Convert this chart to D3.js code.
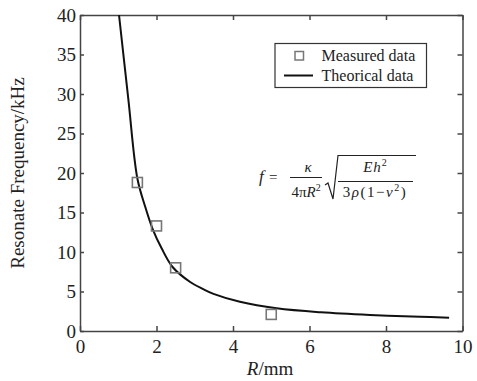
<!DOCTYPE html>
<html>
<head>
<meta charset="utf-8">
<script src="https://cdn.jsdelivr.net/npm/d3@7"></script>
<style>
  body { margin: 0; background: #fff; }
  svg text { font-family: "Liberation Serif", "Times New Roman", serif; fill: #222; }
</style>
</head>
<body>
<div id="chart"></div>
<script>
// measured points
var measuredR = [1.5, 2.0, 2.5, 5.0];
var measuredF = [18.8, 13.3, 8.0, 2.1];

// theoretical curve
var theoryR = [1.02, 1.26, 1.5, 1.7, 1.9, 2.13, 2.42, 2.88, 3.22, 3.49, 4.18, 5.14, 6.3, 7.58, 8.89, 9.65];
var theoryF = [40, 29.5, 19.3, 15.8, 12.9, 10.5, 8.1, 6.2, 5.3, 4.7, 3.7, 2.87, 2.36, 2.03, 1.81, 1.69];

var xTicks = [0, 2, 4, 6, 8, 10];
var yTicks = [0, 5, 10, 15, 20, 25, 30, 35, 40];

var width = 477, height = 381;
var margin = {top: 15, right: 14.5, bottom: 50, left: 80};
var serif = '"Liberation Serif", "Times New Roman", serif';

var svg = d3.select("#chart")
            .append("svg")
            .attr("width", width)
            .attr("height", height);

var x = d3.scaleLinear().domain([0, 10]).range([margin.left, width - margin.right]);
var y = d3.scaleLinear().domain([0, 40]).range([height - margin.bottom, margin.top]);

var axisColor = "#444";

// axes, ticks pointing inward
var xAxis = svg.append("g")
  .attr("transform", "translate(0," + y(0) + ")")
  .call(d3.axisBottom(x).tickValues(xTicks).tickSize(-5).tickPadding(9).tickSizeOuter(0));
var xTop = svg.append("g")
  .attr("transform", "translate(0," + y(40) + ")")
  .call(d3.axisTop(x).tickValues(xTicks).tickSize(-5).tickFormat("").tickSizeOuter(0));
var yAxis = svg.append("g")
  .attr("transform", "translate(" + x(0) + ",0)")
  .call(d3.axisLeft(y).tickValues(yTicks).tickSize(-4).tickPadding(4).tickSizeOuter(0));
var yRight = svg.append("g")
  .attr("transform", "translate(" + x(10) + ",0)")
  .call(d3.axisRight(y).tickValues(yTicks).tickSize(-5).tickFormat("").tickSizeOuter(0));

[xAxis, xTop, yAxis, yRight].forEach(function(g){
  g.attr("font-family", serif).attr("font-size", 19);
  g.selectAll("path, line").attr("stroke", axisColor).attr("stroke-width", 1.5);
  g.selectAll("text").attr("fill", "#222");
});
xAxis.selectAll("text").attr("dy", "0.71em");
yAxis.selectAll("text").attr("dy", "0.34em");

// theoretical curve
var curvePts = theoryR.map(function(r, i){ return [r, theoryF[i]]; });
var line = d3.line()
  .x(function(d){ return x(d[0]); })
  .y(function(d){ return y(d[1]); })
  .curve(d3.curveCatmullRom.alpha(0.5));

svg.append("path")
  .datum(curvePts)
  .attr("d", line)
  .attr("fill", "none")
  .attr("stroke", "#111")
  .attr("stroke-width", 2);

// measured squares
var sq = 10;
svg.selectAll(".pt")
  .data(measuredR.map(function(r, i){ return [r, measuredF[i]]; }))
  .enter().append("rect")
  .attr("class", "pt")
  .attr("x", function(d){ return x(d[0]) - sq / 2; })
  .attr("y", function(d){ return y(d[1]) - sq / 2; })
  .attr("width", sq)
  .attr("height", sq)
  .attr("fill", "none")
  .attr("stroke", "#777")
  .attr("stroke-width", 1.6);

// axis titles
var xt = svg.append("text")
  .attr("x", 270).attr("y", 375)
  .attr("text-anchor", "middle")
  .attr("font-size", 19);
xt.append("tspan").attr("font-style", "italic").text("R");
xt.append("tspan").text("/mm");

svg.append("text")
  .attr("transform", "translate(24," + ((y(0) + y(40)) / 2) + ") rotate(-90)")
  .attr("text-anchor", "middle")
  .attr("font-size", 19)
  .text("Resonate Frequency/kHz");

// legend
var lg = svg.append("g");
lg.append("rect")
  .attr("x", 275).attr("y", 43.5).attr("width", 151.5).attr("height", 44)
  .attr("fill", "#fff").attr("stroke", "#333").attr("stroke-width", 1.2);
lg.append("rect")
  .attr("x", 295).attr("y", 51.5).attr("width", 8.5).attr("height", 8.5)
  .attr("fill", "none").attr("stroke", "#777").attr("stroke-width", 1.5);
lg.append("text").attr("x", 321.5).attr("y", 60.5).attr("font-size", 16).text("Measured data");
lg.append("line")
  .attr("x1", 284).attr("x2", 313).attr("y1", 75.5).attr("y2", 75.5)
  .attr("stroke", "#111").attr("stroke-width", 2);
lg.append("text").attr("x", 321.5).attr("y", 80.5).attr("font-size", 16).text("Theorical data");

// formula
var fs = 15;
var fm = svg.append("g");
fm.append("text").attr("x", 259).attr("y", 182).attr("font-size", 17).attr("font-style", "italic").text("f");
fm.append("text").attr("x", 269).attr("y", 182).attr("font-size", fs).text("=");
fm.append("text").attr("x", 308).attr("y", 172).attr("font-size", fs).attr("text-anchor", "middle").attr("font-style", "italic").text("κ");
fm.append("line").attr("x1", 290).attr("x2", 322).attr("y1", 177.5).attr("y2", 177.5)
  .attr("stroke", "#222").attr("stroke-width", 1);
var den1 = fm.append("text").attr("x", 306).attr("y", 197).attr("font-size", fs).attr("text-anchor", "middle");
den1.append("tspan").text("4π");
den1.append("tspan").attr("font-style", "italic").text("R");
den1.append("tspan").attr("dy", -6).attr("font-size", 10).text("2");

fm.append("path")
  .attr("d", "M325,185 L328,183 L333,199 L338,155.5 L416,155.5")
  .attr("fill", "none").attr("stroke", "#222").attr("stroke-width", 1.2);
var num = fm.append("text").attr("x", 375).attr("y", 172).attr("font-size", fs).attr("text-anchor", "middle");
num.append("tspan").attr("font-style", "italic").attr("letter-spacing", 1).text("Eh");
num.append("tspan").attr("dy", -6).attr("font-size", 10).text("2");
fm.append("line").attr("x1", 338).attr("x2", 413).attr("y1", 181.5).attr("y2", 181.5)
  .attr("stroke", "#222").attr("stroke-width", 1);
var den2 = fm.append("text").attr("x", 375).attr("y", 197).attr("font-size", fs)
  .attr("text-anchor", "middle").attr("letter-spacing", 1.5);
den2.append("tspan").text("3");
den2.append("tspan").attr("font-style", "italic").text("ρ");
den2.append("tspan").text("(1−");
den2.append("tspan").attr("font-style", "italic").text("ν");
den2.append("tspan").attr("dy", -6).attr("font-size", 10).text("2");
den2.append("tspan").attr("dy", 6).text(")");
</script>
</body>
</html>
